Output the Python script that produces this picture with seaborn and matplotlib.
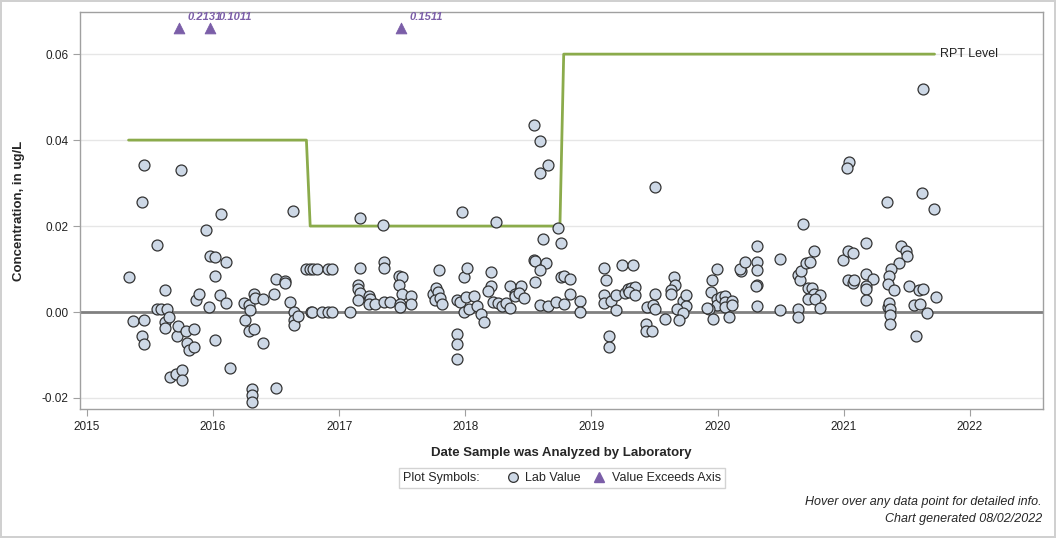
import pandas as pd
import seaborn as sns
import matplotlib.pyplot as plt
from matplotlib.lines import Line2D

sns.set_style('white')
plt.rcParams['font.family'] = ['Liberation Sans', 'DejaVu Sans']

# sample dates as decimal years, concentrations in ug/L
years_2015_16 = [2015.335, 2015.367, 2015.438, 2015.454, 2015.438, 2015.454, 2015.454, 2015.557,
                 2015.557, 2015.589, 2015.633, 2015.620, 2015.620, 2015.652, 2015.620, 2015.662,
                 2015.703, 2015.715, 2015.723, 2015.747, 2015.755, 2015.755, 2015.787, 2015.795,
                 2015.811, 2015.850, 2015.850, 2015.863, 2015.890, 2015.945, 2015.969, 2015.975,
                 2016.017, 2016.017, 2016.017, 2016.057, 2016.064, 2016.104, 2016.104, 2016.136,
                 2016.249, 2016.254, 2016.284, 2016.289, 2016.286, 2016.310, 2016.310, 2016.310,
                 2016.323, 2016.326, 2016.334, 2016.397, 2016.397, 2016.484, 2016.500, 2016.500,
                 2016.571, 2016.571, 2016.611, 2016.632, 2016.643, 2016.643, 2016.643, 2016.675,
                 2016.735, 2016.767, 2016.796, 2016.825, 2016.912, 2016.944, 2016.775, 2016.788,
                 2016.864, 2016.912, 2016.944, 2017.084]
conc_2015_16 = [0.0081, -0.0022, 0.0257, 0.0341, -0.0056, -0.0074, -0.0019, 0.0155,
                0.0007, 0.0007, 0.0007, 0.0051, -0.0023, -0.0011, -0.0038, -0.0150,
                -0.0145, -0.0056, -0.0033, 0.0330, -0.0136, -0.0159, -0.0043, -0.0072,
                -0.0089, -0.0040, -0.0082, 0.0027, 0.0043, 0.0190, 0.0012, 0.0130,
                0.0127, 0.0084, -0.0066, 0.0039, 0.0227, 0.0116, 0.0020, -0.0131,
                0.0020, -0.0019, 0.0016, 0.0005, -0.0045, -0.0179, -0.0194, -0.0209,
                0.0041, -0.0040, 0.0033, 0.0030, -0.0073, 0.0041, 0.0078, -0.0177,
                0.0072, 0.0067, 0.0023, 0.0236, -0.0001, -0.0019, -0.0031, -0.0010,
                0.0100, 0.0100, 0.0100, 0.0100, 0.0100, 0.0100, 0.0000, 0.0000,
                0.0000, 0.0000, 0.0000, 0.0000]

years_2017_18 = [2017.166, 2017.348, 2017.974, 2018.241, 2018.544, 2018.592, 2018.590, 2018.655,
                 2018.735, 2018.613, 2018.758, 2017.166, 2017.356, 2017.356, 2017.152, 2017.152,
                 2017.163, 2017.152, 2017.240, 2017.248, 2017.237, 2017.282, 2017.356, 2017.403,
                 2017.475, 2017.496, 2017.472, 2017.496, 2017.567, 2017.567, 2017.480, 2017.480,
                 2017.791, 2017.744, 2017.770, 2017.786, 2017.757, 2017.802, 2017.818, 2017.932,
                 2017.961, 2017.987, 2018.008, 2018.029, 2018.069, 2018.093, 2018.124, 2018.148,
                 2017.987, 2018.011, 2017.932, 2017.932, 2017.932, 2018.204, 2018.204, 2018.180,
                 2018.217, 2018.259, 2018.291, 2018.325, 2018.354, 2018.354, 2018.396, 2018.391,
                 2018.441, 2018.425, 2018.463, 2018.547, 2018.552, 2018.639, 2018.589, 2018.552,
                 2018.589, 2018.655, 2018.718, 2018.782, 2018.756, 2018.782, 2018.827, 2018.827,
                 2018.906, 2018.906]
conc_2017_18 = [0.0218, 0.0202, 0.0232, 0.0209, 0.0435, 0.0399, 0.0323, 0.0343,
                0.0195, 0.0171, 0.0160, 0.0102, 0.0116, 0.0102, 0.0063, 0.0053,
                0.0045, 0.0028, 0.0038, 0.0030, 0.0018, 0.0018, 0.0024, 0.0024,
                0.0084, 0.0081, 0.0063, 0.0043, 0.0037, 0.0018, 0.0018, 0.0012,
                0.0098, 0.0043, 0.0055, 0.0047, 0.0028, 0.0032, 0.0019, 0.0028,
                0.0024, 0.0001, 0.0034, 0.0006, 0.0037, 0.0014, -0.0005, -0.0023,
                0.0081, 0.0102, -0.0052, -0.0075, -0.0110, 0.0092, 0.0060, 0.0048,
                0.0024, 0.0020, 0.0014, 0.0022, 0.0009, 0.0060, 0.0043, 0.0037,
                0.0060, 0.0045, 0.0032, 0.0121, 0.0119, 0.0113, 0.0098, 0.0071,
                0.0016, 0.0014, 0.0024, 0.0019, 0.0081, 0.0084, 0.0077, 0.0042,
                0.0026, 0.0001]

years_2019_20 = [2019.503, 2020.676, 2019.099, 2019.115, 2019.099, 2019.099, 2019.154, 2019.194,
                 2019.194, 2019.139, 2019.139, 2019.242, 2019.329, 2019.263, 2019.290, 2019.311,
                 2019.342, 2019.300, 2019.342, 2019.442, 2019.487, 2019.503, 2019.503, 2019.431,
                 2019.431, 2019.479, 2019.582, 2019.653, 2019.661, 2019.627, 2019.627, 2019.725,
                 2019.749, 2019.749, 2019.678, 2019.725, 2019.693, 2019.992, 2019.955, 2019.947,
                 2019.992, 2019.992, 2020.024, 2020.058, 2020.058, 2020.058, 2020.113, 2020.113,
                 2020.092, 2019.931, 2019.913, 2019.960, 2020.182, 2020.174, 2020.216, 2020.311,
                 2020.311, 2020.311, 2020.311, 2020.306, 2020.311, 2020.494, 2020.494, 2020.634,
                 2020.634, 2020.634, 2020.652, 2020.660, 2020.700, 2020.730, 2020.763, 2020.720,
                 2020.747, 2020.763, 2020.810, 2020.720, 2020.770, 2020.810]
conc_2019_20 = [0.0290, 0.0204, 0.0102, 0.0074, 0.0039, 0.0020, 0.0025, 0.0040,
                0.0004, -0.0056, -0.0081, 0.0109, 0.0109, 0.0045, 0.0053, 0.0057,
                0.0059, 0.0047, 0.0040, 0.0012, 0.0016, 0.0006, 0.0042, -0.0028,
                -0.0044, -0.0043, -0.0017, 0.0081, 0.0064, 0.0051, 0.0043, 0.0026,
                0.0040, 0.0014, 0.0006, -0.0002, -0.0019, 0.0099, 0.0074, 0.0046,
                0.0031, 0.0016, 0.0036, 0.0038, 0.0023, 0.0012, 0.0025, 0.0016,
                -0.0012, 0.0008, 0.0009, -0.0016, 0.0096, 0.0099, 0.0116, 0.0153,
                0.0116, 0.0098, 0.0062, 0.0060, 0.0014, 0.0123, 0.0004, 0.0007,
                -0.0012, 0.0085, 0.0074, 0.0096, 0.0114, 0.0116, 0.0141, 0.0057,
                0.0056, 0.0043, 0.0039, 0.0030, 0.0030, 0.0009]

years_2021 = [2020.993, 2021.032, 2021.072, 2021.175, 2021.032, 2021.072, 2021.085, 2021.175,
              2021.231, 2021.175, 2021.175, 2021.175, 2021.038, 2021.030, 2021.342, 2021.619,
              2021.719, 2021.627, 2021.452, 2021.492, 2021.500, 2021.436, 2021.373, 2021.357,
              2021.349, 2021.397, 2021.349, 2021.357, 2021.365, 2021.365, 2021.365, 2021.516,
              2021.595, 2021.627, 2021.555, 2021.603, 2021.658, 2021.571, 2021.729]
conc_2021 = [0.0121, 0.0141, 0.0137, 0.0160, 0.0074, 0.0067, 0.0074, 0.0088,
             0.0077, 0.0061, 0.0053, 0.0028, 0.0349, 0.0334, 0.0257, 0.0278,
             0.0239, 0.0520, 0.0153, 0.0142, 0.0130, 0.0114, 0.0099, 0.0084,
             0.0065, 0.0051, 0.0012, 0.0020, 0.0006, -0.0007, -0.0029, 0.0060,
             0.0051, 0.0053, 0.0016, 0.0018, -0.0003, -0.0056, 0.0036]

# values above the axis top, drawn at the top edge
exceed_years = [2015.73, 2015.975, 2017.49]
exceed_values = [0.2131, 0.1011, 0.1511]
exceed_plot_y = 0.066

# reporting level step line
rpt_years = [2015.33, 2016.74, 2016.77, 2018.75, 2018.78, 2021.72]
rpt_levels = [0.04, 0.04, 0.02, 0.02, 0.06, 0.06]

df = pd.DataFrame({
    'year': years_2015_16 + years_2017_18 + years_2019_20 + years_2021,
    'conc': conc_2015_16 + conc_2017_18 + conc_2019_20 + conc_2021,
})
rpt = pd.DataFrame({'year': rpt_years, 'level': rpt_levels})
exc = pd.DataFrame({'year': exceed_years, 'value': exceed_values})
exc['y'] = exceed_plot_y

fig = plt.figure(figsize=(10.56, 5.38), dpi=100)
fig.patch.set_edgecolor('#d0d0d0')
fig.patch.set_linewidth(1.5)
ax = fig.add_axes([80 / 1056, 1 - 409 / 538, 963 / 1056, 397 / 538])

grid_c = '#e6e6e6'
for v in [-0.02, 0.02, 0.04, 0.06]:
    ax.axhline(v, color=grid_c, lw=1, zorder=0)
ax.axhline(0, color='#808080', lw=2, zorder=1)

sns.lineplot(data=rpt, x='year', y='level', sort=False, estimator=None,
             color='#8bab4b', lw=2, ax=ax, zorder=2)
ax.text(rpt_years[-1] + 0.04, rpt_levels[-1], 'RPT Level', fontsize=9,
        va='center', ha='left', color='#222222')

sns.scatterplot(data=df, x='year', y='conc', s=62, color='#cdd8e6',
                edgecolor='#333333', linewidth=0.9, ax=ax, zorder=3)
sns.scatterplot(data=exc, x='year', y='y', marker='^', s=60, color='#7b5ea8',
                edgecolor='#7b5ea8', ax=ax, zorder=3)
for _, r in exc.iterrows():
    ax.annotate(f"{r['value']:.4f}", (r['year'], r['y']), xytext=(6, 8.5),
                textcoords='offset points', fontsize=8, fontweight='bold',
                fontstyle='italic', color='#7b5ea8', va='center', ha='left')

ax.set_xlim(2014.945, 2022.58)
ax.set_ylim(-0.02256, 0.0698)
ax.set_xticks(range(2015, 2023))
ax.set_xticklabels([str(y) for y in range(2015, 2023)])
ax.set_yticks([-0.02, 0.0, 0.02, 0.04, 0.06])
ax.set_yticklabels(['-0.02', '0.00', '0.02', '0.04', '0.06'])
ax.tick_params(axis='both', length=5, color='#a0a0a0', labelsize=8.5,
               labelcolor='#222222', direction='out', bottom=True, left=True)
for s in ax.spines.values():
    s.set_color('#a0a0a0')
    s.set_linewidth(1)

ax.set_xlabel('Date Sample was Analyzed by Laboratory', fontsize=9.5,
              fontweight='bold', labelpad=10)
ax.set_ylabel('Concentration, in ug/L', fontsize=9.5, fontweight='bold', labelpad=12)

handles = [Line2D([], [], linestyle='none'),
           Line2D([], [], marker='o', linestyle='none', markersize=7,
                  markerfacecolor='#cdd8e6', markeredgecolor='#333333', markeredgewidth=0.9),
           Line2D([], [], marker='^', linestyle='none', markersize=7,
                  markerfacecolor='#7b5ea8', markeredgecolor='#7b5ea8')]
leg = fig.legend(handles, ['Plot Symbols:    ', 'Lab Value', 'Value Exceeds Axis'],
                 loc='center', bbox_to_anchor=(562 / 1056, 1 - 478 / 538), ncol=3,
                 fontsize=9, frameon=True, fancybox=False, borderpad=0.3,
                 handlelength=0.8, handletextpad=0.6, columnspacing=1.1)
leg.get_frame().set_edgecolor('#c8c8c8')
leg.get_frame().set_linewidth(1)
# drop the empty marker slot in front of "Plot Symbols:"
try:
    first = leg._legend_handle_box.get_children()[0].get_children()[0]
    first.get_children()[0].width = 0
    first.sep = 0
except Exception:
    pass

fig.text(1042 / 1056, 1 - 502 / 538, 'Hover over any data point for detailed info.',
         ha='right', va='center', fontsize=9, fontstyle='italic')
fig.text(1042 / 1056, 1 - 519 / 538, 'Chart generated 08/02/2022',
         ha='right', va='center', fontsize=9, fontstyle='italic')

fig.savefig('out.png', dpi=100, edgecolor=fig.get_edgecolor())
